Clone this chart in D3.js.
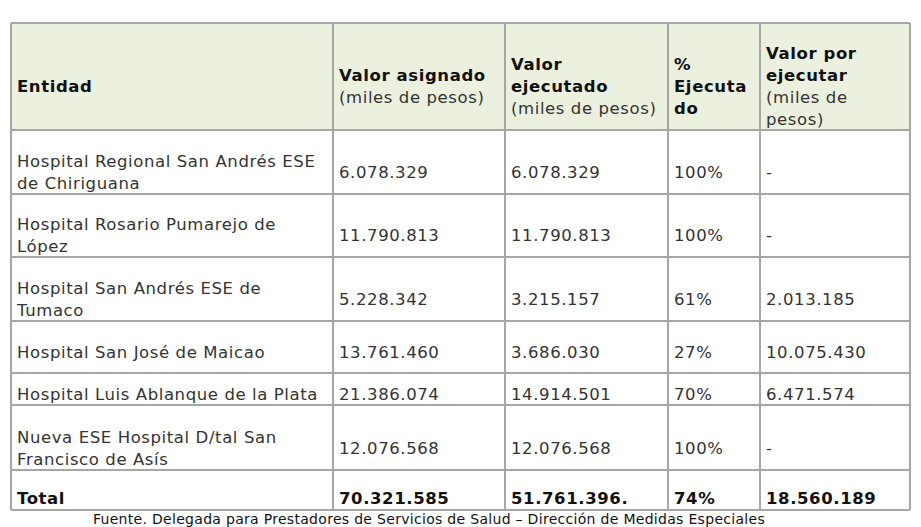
<!DOCTYPE html>
<html>
<head>
<meta charset="utf-8">
<script src="https://cdn.jsdelivr.net/npm/d3@7"></script>
<style>
  body { margin: 0; background: #fff; }
  text { font-family: "DejaVu Sans", Verdana, sans-serif; font-size: 16.5px; letter-spacing: 0.6px; fill: #111; }
</style>
</head>
<body>
<svg id="chart" width="921" height="527"></svg>
<script>
// header lines: [text, bold]
const headers = [
  [["Entidad", 1]],
  [["Valor asignado", 1], ["(miles de pesos)", 0]],
  [["Valor", 1], ["ejecutado", 1], ["(miles de pesos)", 0]],
  [["%", 1], ["Ejecuta", 1], ["do", 1]],
  [["Valor por", 1], ["ejecutar", 1], ["(miles de", 0], ["pesos)", 0]]
];
const entidades = [
  ["Hospital Regional San Andrés ESE", "de Chiriguana"],
  ["Hospital Rosario Pumarejo de", "López"],
  ["Hospital San Andrés ESE de", "Tumaco"],
  ["Hospital San José de Maicao"],
  ["Hospital Luis Ablanque de la Plata"],
  ["Nueva ESE Hospital D/tal San", "Francisco de Asís"]
];
const asignado = ["6.078.329", "11.790.813", "5.228.342", "13.761.460", "21.386.074", "12.076.568"];
const ejecutado = ["6.078.329", "11.790.813", "3.215.157", "3.686.030", "14.914.501", "12.076.568"];
const pctEjecutado = ["100%", "100%", "61%", "27%", "70%", "100%"];
const porEjecutar = ["-", "-", "2.013.185", "10.075.430", "6.471.574", "-"];
const total = ["Total", "70.321.585", "51.761.396.", "74%", "18.560.189"];
const fuente = "Fuente. Delegada para Prestadores de Servicios de Salud – Dirección de Medidas Especiales";

const colEdges = [11, 333, 505, 668, 760, 910];
const rowEdges = [23, 130, 194, 257, 321, 373, 405, 470, 510];
const padBottom = [11, 11, 11, 11, 21, 11, 11, 12];
const lineH = 22;

const svg = d3.select("#chart");

// build rows: each cell is list of [text, bold]
const rows = [headers];
entidades.forEach((e, i) => {
  rows.push([
    e.map(t => [t, 0]),
    [[asignado[i], 0]], [[ejecutado[i], 0]], [[pctEjecutado[i], 0]], [[porEjecutar[i], 0]]
  ]);
});
rows.push(total.map(t => [[t, 1]]));

// header background
svg.append("rect")
  .attr("x", colEdges[0]).attr("y", rowEdges[0])
  .attr("width", colEdges[5] - colEdges[0]).attr("height", rowEdges[1] - rowEdges[0])
  .attr("fill", "#ebf1de");

rows.forEach((row, r) => {
  const bottom = rowEdges[r + 1];
  const maxLines = d3.max(row, c => c.length);
  const blockCenter = bottom - padBottom[r] - (maxLines - 1) * lineH / 2;
  row.forEach((cell, c) => {
    const y0 = blockCenter - (cell.length - 1) * lineH / 2;
    cell.forEach((ln, k) => {
      svg.append("text")
        .attr("x", colEdges[c] + 6)
        .attr("y", y0 + k * lineH)
        .attr("dy", "0.36em")
        .style("font-weight", ln[1] ? "bold" : "normal")
        .style("fill", ln[1] ? "#111" : "#333")
        .text(ln[0]);
    });
  });
});

// grid lines
const gridColor = "#a6a6a6";
rowEdges.forEach(y => {
  svg.append("line").attr("x1", colEdges[0]).attr("x2", colEdges[5])
    .attr("y1", y).attr("y2", y).attr("stroke", gridColor).attr("stroke-width", 2);
});
colEdges.forEach(x => {
  svg.append("line").attr("x1", x).attr("x2", x)
    .attr("y1", rowEdges[0]).attr("y2", rowEdges[rowEdges.length - 1])
    .attr("stroke", gridColor).attr("stroke-width", 2);
});

svg.append("text")
  .attr("x", 429).attr("y", 519).attr("dy", "0.36em")
  .attr("text-anchor", "middle")
  .style("font-size", "14px")
  .style("letter-spacing", "0.3px")
  .text(fuente);
</script>
</body>
</html>
